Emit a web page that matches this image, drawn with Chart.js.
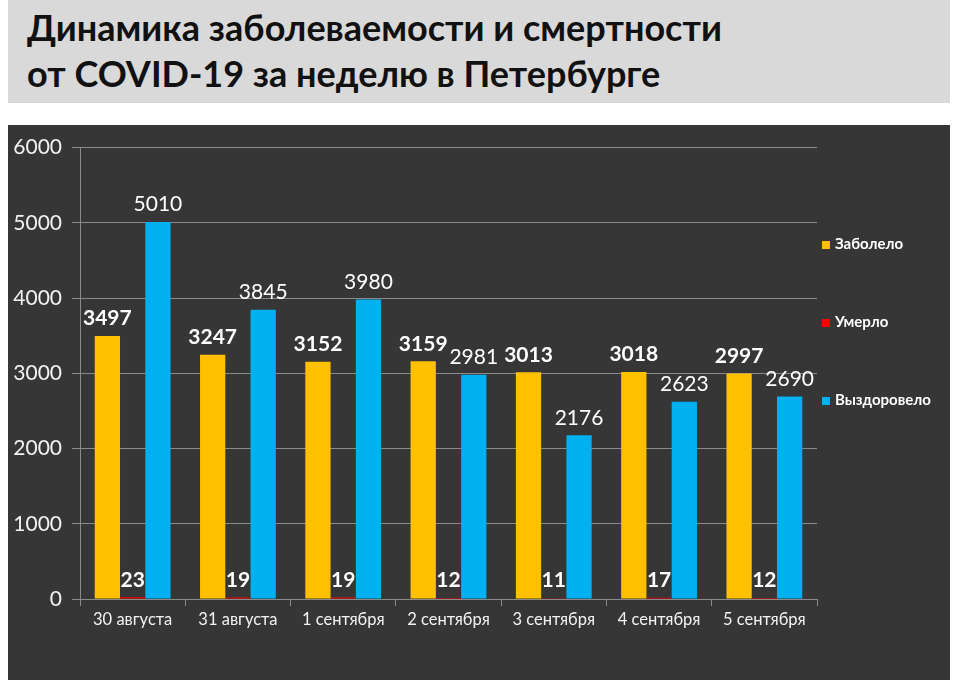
<!DOCTYPE html>
<html>
<head>
<meta charset="utf-8">
<script src="https://cdn.jsdelivr.net/npm/chart.js@4"></script>
<style>
    body { margin: 0; background: #ffffff; width: 960px; height: 690px; overflow: hidden; position: relative; font-family: Lato, "Open Sans", sans-serif; }
    #title { position: absolute; left: 8px; top: 0; width: 942px; height: 103px; background: #d9d9d9; }
    #title div { position: absolute; left: 19px; font-weight: bold; font-size: 36px; color: #111; white-space: nowrap; }
    #panel { position: absolute; left: 8px; top: 125px; width: 942px; height: 555px; background: #363636; }
    #legend { position: absolute; left: 814px; top: 0; }
    .item { position: absolute; left: 0; white-space: nowrap; color: #fff; font-weight: bold; font-size: 15px; }
    .item span { display: inline-block; width: 8px; height: 8px; margin-right: 5px; }
</style>
</head>
<body>
<div id="title">
    <div style="top: 5px;">Динамика заболеваемости и смертности</div>
    <div style="top: 51px;">от COVID-19 за неделю в Петербурге</div>
</div>
<div id="panel">
    <canvas id="chart" width="942" height="555"></canvas>
    <div id="legend"></div>
</div>
<script>
// Data
const categories = ['30 августа', '31 августа', '1 сентября', '2 сентября', '3 сентября', '4 сентября', '5 сентября'];
const sick = [3497, 3247, 3152, 3159, 3013, 3018, 2997];      // Заболело
const died = [23, 19, 19, 12, 11, 17, 12];                    // Умерло
const recovered = [5010, 3845, 3980, 2981, 2176, 2623, 2690]; // Выздоровело
const seriesNames = ['Заболело', 'Умерло', 'Выздоровело'];
const seriesColors = ['#ffc000', '#ff0000', '#00b0f0'];
const labelBold = [true, true, false]; // value labels: bold for first two series
const yTicks = [0, 1000, 2000, 3000, 4000, 5000, 6000];

const FONT = 'Lato, "Open Sans", sans-serif';

// Draw value labels above each bar
const valueLabels = {
    id: 'valueLabels',
    afterDatasetsDraw(chart) {
        const ctx = chart.ctx;
        ctx.save();
        ctx.fillStyle = '#ffffff';
        ctx.textAlign = 'center';
        ctx.textBaseline = 'bottom';
        chart.data.datasets.forEach((ds, i) => {
            const meta = chart.getDatasetMeta(i);
            ctx.font = (labelBold[i] ? 'bold ' : '') + '21px ' + FONT;
            meta.data.forEach((bar, j) => {
                ctx.fillText(ds.data[j], bar.x, bar.y - 7);
            });
        });
        ctx.restore();
    }
};

const datasets = seriesNames.map((name, i) => ({
    label: name,
    data: [sick, died, recovered][i],
    backgroundColor: seriesColors[i],
    barPercentage: 1.0,
    categoryPercentage: 0.72
}));

new Chart(document.getElementById('chart'), {
    type: 'bar',
    data: { labels: categories, datasets: datasets },
    options: {
        responsive: false,
        animation: false,
        layout: { padding: { top: 12, right: 133, left: 0, bottom: 0 } },
        plugins: {
            legend: { display: false },
            tooltip: { enabled: false }
        },
        scales: {
            x: {
                grid: { display: true, drawOnChartArea: false, color: '#8a8a8a', tickLength: 7, offset: true },
                border: { color: '#8a8a8a' },
                ticks: { color: '#f2f2f2', font: { family: FONT, size: 16.5 }, padding: 4 },
                afterFit: function (scale) { scale.height = 81; }
            },
            y: {
                min: 0,
                max: 6000,
                afterBuildTicks: function (scale) { scale.ticks = yTicks.map(v => ({ value: v })); },
                grid: { color: '#8a8a8a', tickLength: 8 },
                border: { color: '#8a8a8a' },
                ticks: {
                    color: '#f2f2f2',
                    font: { family: FONT, size: 21 },
                    padding: 10,
                    callback: function (value) { return String(value); } // no thousands separator
                },
                afterFit: function (scale) { scale.width = 72; }
            }
        }
    },
    plugins: [valueLabels]
});

// Legend on the right, built from the series arrays
const legend = document.getElementById('legend');
seriesNames.forEach((name, i) => {
    const item = document.createElement('div');
    item.className = 'item';
    item.style.top = (109 + i * 78) + 'px';
    item.innerHTML = '<span style="background:' + seriesColors[i] + '"></span>' + name;
    legend.appendChild(item);
});
</script>
</body>
</html>
